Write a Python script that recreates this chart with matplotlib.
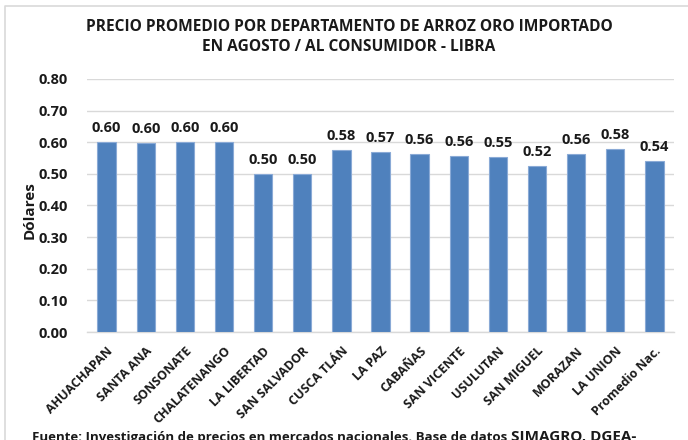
import matplotlib
matplotlib.use("Agg")
import matplotlib.pyplot as plt
from matplotlib.lines import Line2D

categories = ["AHUACHAPAN", "SANTA ANA", "SONSONATE", "CHALATENANGO", "LA LIBERTAD",
              "SAN SALVADOR", "CUSCA TLÁN", "LA PAZ", "CABAÑAS", "SAN VICENTE",
              "USULUTAN", "SAN MIGUEL", "MORAZAN", "LA UNION", "Promedio Nac."]
values = [0.600, 0.597, 0.600, 0.600, 0.500, 0.500, 0.576, 0.569, 0.562, 0.558,
          0.554, 0.524, 0.564, 0.578, 0.542]
yticks = [0.0, 0.1, 0.2, 0.3, 0.4, 0.5, 0.6, 0.7, 0.8]

title = "PRECIO PROMEDIO POR DEPARTAMENTO DE ARROZ ORO IMPORTADO\nEN AGOSTO / AL CONSUMIDOR - LIBRA"
ylabel = "Dólares"
footer1 = "Fuente: Investigación de precios en mercados nacionales. Base de datos "
footer2 = "SIMAGRO, DGEA-"

FONT = "Open Sans"
plt.rcParams['font.family'] = [FONT, 'DejaVu Sans']

W, H = 688, 440
fig = plt.figure(figsize=(W/100, H/100), dpi=100)
ax = fig.add_axes([87/W, 1-332/H, (674-87)/W, (332-79)/H])

x = list(range(len(categories)))
ax.bar(x, values, width=0.47, color="#4F81BD", edgecolor="#8AAAD6", linewidth=0.8, zorder=3)
for xi, v in zip(x, values):
    ax.annotate(f"{v:.2f}", (xi, v), xytext=(0, 5), textcoords="offset points",
                ha="center", va="bottom", fontsize=10.5, fontweight="bold", color="#1a1a1a")

ax.set_xlim(-0.5, len(categories)-0.5)
ax.set_ylim(0, 0.8)
ax.set_yticks(yticks)
ax.set_yticklabels([f"{t:.2f}" for t in yticks], fontsize=10.5, fontweight="bold", color="#1a1a1a")
ax.set_xticks(x)
ax.set_xticklabels(categories, rotation=45, ha="right", rotation_mode="anchor",
                   fontsize=9, fontweight="bold", color="#1a1a1a")
ax.tick_params(axis="both", length=0)
ax.tick_params(axis="y", pad=14)
ax.tick_params(axis="x", pad=9)
ax.grid(axis="y", color="#D9D9D9", linewidth=1, zorder=0)
for s in ["top", "right", "left"]:
    ax.spines[s].set_visible(False)
ax.spines["bottom"].set_color("#D9D9D9")
ax.spines["bottom"].set_linewidth(1)

fig.text(30/W, 1-210/H, ylabel, rotation=90, ha="center", va="center",
         fontsize=11, fontweight="bold", color="#1a1a1a")
fig.text(349/W, 1-37/H, title, ha="center", va="center", fontsize=11.2,
         fontweight="bold", color="#1a1a1a", linespacing=1.3)

# frame
fig.add_artist(Line2D([5/W, 5/W, 1], [0, 1-6/H, 1-6/H], transform=fig.transFigure,
                      color="#D9D9D9", linewidth=1.2))

t1 = fig.text(32/W, -1/H, footer1, ha="left", va="baseline", fontsize=9.5,
              fontweight="bold", color="#1a1a1a")
fig.canvas.draw()
bb = t1.get_window_extent()
fig.text(bb.x1/W, -1/H, footer2, ha="left", va="baseline", fontsize=11,
         fontweight="bold", color="#1a1a1a")

fig.savefig("out.png", dpi=100)
